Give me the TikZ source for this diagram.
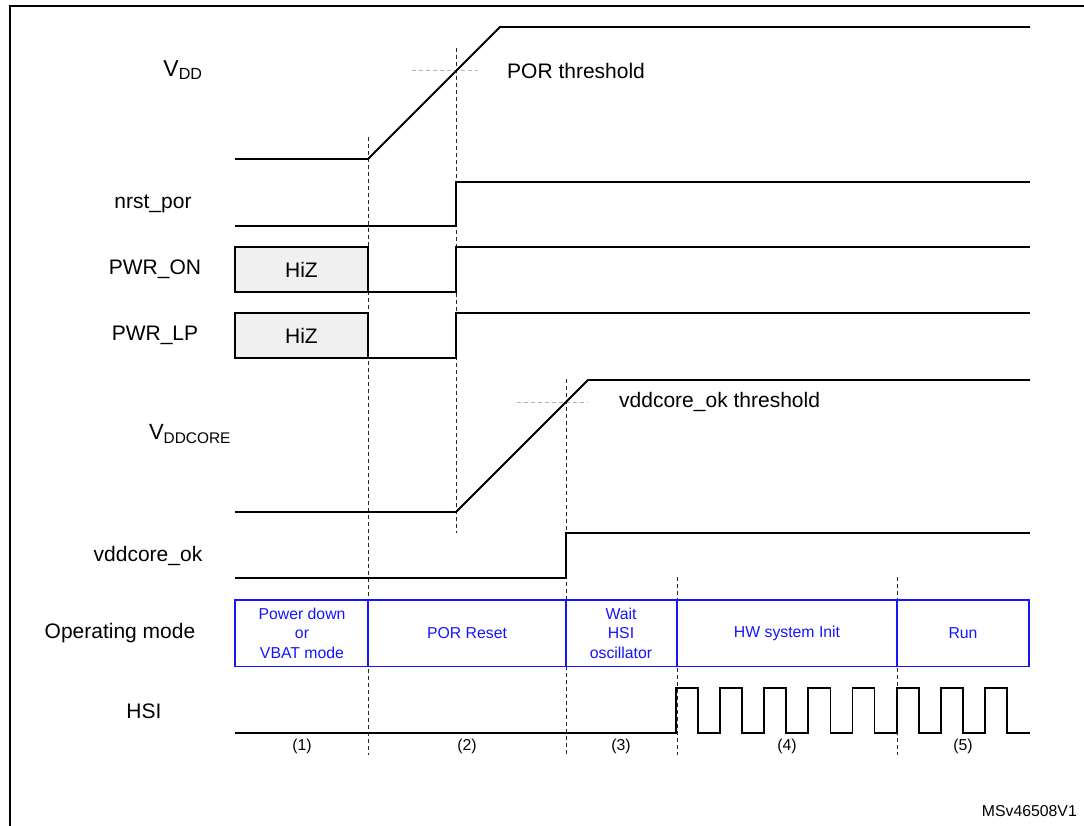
\documentclass[tikz,border=0pt]{standalone}
\usepackage{fontspec}
\setmainfont{Liberation Sans}
\begin{document}
\begin{tikzpicture}[x=1pt,y=-1pt,
  sig/.style={line width=1.8pt,line join=miter},
  vdash/.style={line width=1pt,draw=black!85,dash pattern=on 4pt off 3pt},
  thr/.style={line width=1pt,draw=black!30,dash pattern=on 4pt off 3pt},
  lbl/.style={font=\fontsize{21}{25}\selectfont,inner sep=0pt},
  small/.style={font=\fontsize{15.8}{18}\selectfont,inner sep=0pt},
  mode/.style={font=\fontsize{15.8}{19.5}\selectfont,text=modeblue,align=center,inner sep=0pt},
  hiz/.style={draw=black,line width=1.2pt,fill=black!6}]
\definecolor{modeblue}{RGB}{20,20,255}
\useasboundingbox (0,0) rectangle (1084,826);
% frame
\draw[line width=2.4pt] (10,830) -- (10,6) -- (1090,6);
% vertical dashed guides
\draw[vdash] (368,137) -- (368,755);
\draw[vdash] (456,48) -- (456,533);
\draw[vdash] (566,379) -- (566,755);
\draw[vdash] (677,577) -- (677,755);
\draw[vdash] (897,577) -- (897,755);
% thresholds
\draw[thr] (412,71) -- (478,71);
\draw[thr] (517,402) -- (588,402);
\node[lbl,anchor=west] (porthr) at (507,71) {POR threshold};
\node[lbl,anchor=west] (vcthr) at (619,402) {vddcore\_ok threshold};
% left labels
\node[lbl,font=\fontsize{23}{27}\selectfont] (lvdd) at (183,70) {V\textsubscript{DD}};
\node[lbl] (lnrst) at (153,204) {nrst\_por};
\node[lbl] (lpon) at (155,269) {PWR\_ON};
\node[lbl] (lplp) at (155,335) {PWR\_LP};
\node[lbl,font=\fontsize{22}{26}\selectfont] (lvcore) at (190,434) {V\textsubscript{DDCORE}};
\node[lbl] (lvok) at (148,556) {vddcore\_ok};
\node[lbl] (lmode) at (120,633) {Operating mode};
\node[lbl] (lhsi) at (144,711) {HSI};
% VDD
\draw[sig] (235,159) -- (368,159) -- (500,27) -- (1030,27);
% nrst_por
\draw[sig] (235,226) -- (456,226) -- (456,182) -- (1030,182);
% PWR_ON
\draw[hiz] (235,247) rectangle (368,292);
\node[lbl] (hiz1) at (301.5,269.5) {HiZ};
\draw[sig] (368,292) -- (456,292) -- (456,247) -- (1030,247);
% PWR_LP
\draw[hiz] (235,313) rectangle (368,358);
\node[lbl] (hiz2) at (301.5,335.5) {HiZ};
\draw[sig] (368,358) -- (456,358) -- (456,313) -- (1030,313);
% VDDCORE
\draw[sig] (235,512) -- (456,512) -- (588,380) -- (1030,380);
% vddcore_ok
\draw[sig] (235,578) -- (566,578) -- (566,533) -- (1030,533);
% operating mode boxes
\draw[modeblue,line width=1.8pt] (235,600) rectangle (1029,666.5);
\foreach \xx in {368,566,677,897} \draw[modeblue,line width=1.8pt] (\xx,600) -- (\xx,666.5);
\node[mode] (m1) at (302,633) {Power down\\or\\VBAT mode};
\node[mode] (m2) at (467,633) {POR Reset};
\node[mode] (m3) at (621,633) {Wait\\HSI\\oscillator};
\node[mode] (m4) at (787,633) {HW system Init};
\node[mode] (m5) at (963,633) {Run};
% HSI clock
\draw[sig] (235,733) -- (676,733)
  \foreach \k in {0,...,7} { -- ({676+44.125*\k},688) -- ({698.06+44.125*\k},688) -- ({698.06+44.125*\k},733) -- ({720.125+44.125*\k},733) }
  -- (1029.5,733);
% phase numbers
\node[small] (p1) at (302,746) {(1)};
\node[small] (p2) at (467,746) {(2)};
\node[small] (p3) at (621,746) {(3)};
\node[small] (p4) at (787,746) {(4)};
\node[small] (p5) at (963,746) {(5)};
\node[small,anchor=east] (ref) at (1077,811) {MSv46508V1};
\end{tikzpicture}
\end{document}
